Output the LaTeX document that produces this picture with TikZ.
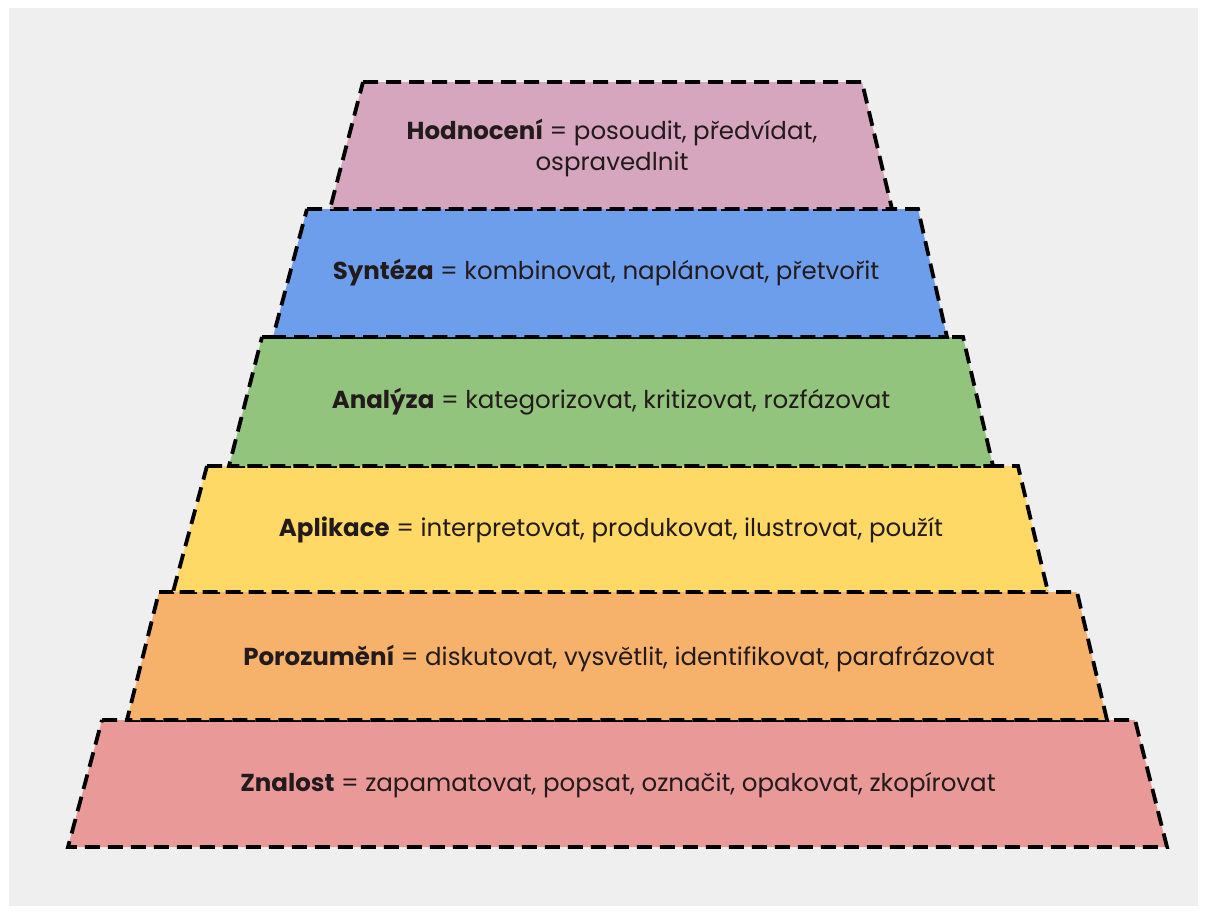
\documentclass[tikz,border=0pt]{standalone}
\usepackage{fontspec}
\setmainfont{Poppins}
\definecolor{bg}{HTML}{EFEFEF}
\definecolor{cpink}{HTML}{D5A6BD}
\definecolor{cblue}{HTML}{6D9EEB}
\definecolor{cgreen}{HTML}{93C47D}
\definecolor{cyellow}{HTML}{FFD966}
\definecolor{corange}{HTML}{F6B26B}
\definecolor{cred}{HTML}{EA9999}
\definecolor{txt}{HTML}{231A1C}
\begin{document}
\begin{tikzpicture}[x=1pt,y=-1pt,
  lvl/.style={draw=black, line width=3.8pt, dash pattern=on 15pt off 8pt, line join=miter},
  lbl/.style={font=\fontsize{24.5}{31}\selectfont, text=txt, align=center, inner sep=0pt}]
\useasboundingbox (0,0) rectangle (1207,914);
\fill[white] (0,0) rectangle (1207,914);
\fill[bg] (9,8) rectangle (1198,906);
\filldraw[lvl, fill=cred]    (102,720) -- (1135,720) -- (1167,847) -- (68,847) -- cycle;
\filldraw[lvl, fill=corange] (159,592) -- (1077,592) -- (1107,720) -- (127,720) -- cycle;
\filldraw[lvl, fill=cyellow] (207,466) -- (1018,466) -- (1048,592) -- (173,592) -- cycle;
\filldraw[lvl, fill=cgreen]  (262,337) -- (963,337) -- (993,466) -- (229,466) -- cycle;
\filldraw[lvl, fill=cblue]   (307,209) -- (918,209) -- (947,337) -- (273,337) -- cycle;
\filldraw[lvl, fill=cpink]   (363,82) -- (862,82) -- (892,209) -- (330,209) -- cycle;
\node[lbl] (hod) at (612,148) {\textbf{Hodnocení} = posoudit, předvídat,\\ospravedlnit};
\node[lbl] (syn) at (606,273) {\textbf{Syntéza} = kombinovat, naplánovat, přetvořit};
\node[lbl] (ana) at (611,402) {\textbf{Analýza} = kategorizovat, kritizovat, rozfázovat};
\node[lbl] (apl) at (611,530) {\textbf{Aplikace} = interpretovat, produkovat, ilustrovat, použít};
\node[lbl] (por) at (619,659) {\textbf{Porozumění} = diskutovat, vysvětlit, identifikovat, parafrázovat};
\node[lbl] (zna) at (618,785) {\textbf{Znalost} = zapamatovat, popsat, označit, opakovat, zkopírovat};
\end{tikzpicture}
\end{document}
